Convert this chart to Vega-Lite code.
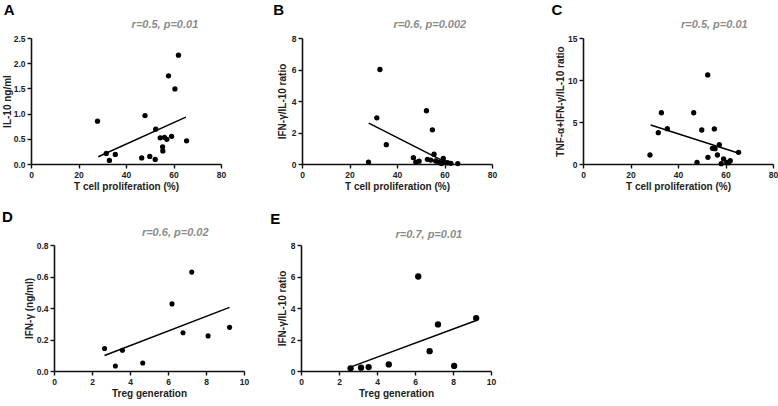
{
  "$schema": "https://vega.github.io/schema/vega-lite/v6.json",
  "background": "white",
  "padding": {"left": 2, "top": 2, "right": 2, "bottom": 2},
  "config": {
    "font": "Liberation Sans",
    "view": {"stroke": null},
    "axis": {
      "grid": false,
      "domainColor": "#111",
      "domainWidth": 1.6,
      "tickColor": "#111",
      "tickWidth": 1.4,
      "tickSize": 4,
      "labelFont": "Liberation Sans",
      "labelFontWeight": "bold",
      "labelFontSize": 8.5,
      "labelColor": "#222",
      "labelPadding": 2,
      "titleFont": "Liberation Sans",
      "titleFontWeight": "bold",
      "titleFontSize": 10,
      "titleColor": "#222"
    },
    "axisX": {"labelFlush": false, "titlePadding": 3}
  },
  "datasets": {
    "A": [
      {"x": 28.0, "y": 0.85}, {"x": 31.7, "y": 0.21}, {"x": 33.0, "y": 0.07}, {"x": 35.5, "y": 0.19},
      {"x": 46.6, "y": 0.12}, {"x": 48.0, "y": 0.96}, {"x": 50.0, "y": 0.15}, {"x": 52.3, "y": 0.09},
      {"x": 52.5, "y": 0.69}, {"x": 54.4, "y": 0.52}, {"x": 55.4, "y": 0.34}, {"x": 55.5, "y": 0.26},
      {"x": 56.2, "y": 0.53}, {"x": 57.2, "y": 0.49}, {"x": 57.9, "y": 1.75}, {"x": 59.2, "y": 0.55},
      {"x": 60.6, "y": 1.49}, {"x": 62.1, "y": 2.16}, {"x": 65.5, "y": 0.46}
    ],
    "Afit": [{"x": 28.3, "y": 0.145}, {"x": 65.2, "y": 0.93}],
    "B": [
      {"x": 28.0, "y": 0.12}, {"x": 31.5, "y": 2.93}, {"x": 32.8, "y": 6.0}, {"x": 35.5, "y": 1.23},
      {"x": 46.9, "y": 0.4}, {"x": 47.9, "y": 0.12}, {"x": 49.3, "y": 0.18}, {"x": 52.4, "y": 3.38},
      {"x": 52.8, "y": 0.3}, {"x": 54.2, "y": 0.25}, {"x": 54.9, "y": 2.17}, {"x": 55.6, "y": 0.62},
      {"x": 56.3, "y": 0.19}, {"x": 57.7, "y": 0.1}, {"x": 58.7, "y": 0.03}, {"x": 59.5, "y": 0.36},
      {"x": 59.8, "y": 0.14}, {"x": 61.3, "y": 0.08}, {"x": 62.7, "y": 0.04}, {"x": 65.6, "y": 0.03}
    ],
    "Bfit": [{"x": 28.1, "y": 2.6}, {"x": 60.0, "y": 0.15}],
    "C": [
      {"x": 28.2, "y": 1.07}, {"x": 31.7, "y": 3.73}, {"x": 33.0, "y": 6.1}, {"x": 35.5, "y": 4.2},
      {"x": 46.6, "y": 6.1}, {"x": 48.0, "y": 0.2}, {"x": 50.0, "y": 4.05}, {"x": 52.5, "y": 10.6},
      {"x": 52.6, "y": 0.8}, {"x": 54.5, "y": 1.87}, {"x": 55.3, "y": 4.17}, {"x": 55.6, "y": 1.83},
      {"x": 56.6, "y": 1.07}, {"x": 57.4, "y": 2.3}, {"x": 58.2, "y": 0.04}, {"x": 59.2, "y": 0.6},
      {"x": 60.5, "y": 0.2}, {"x": 61.3, "y": 0.16}, {"x": 62.0, "y": 0.4}, {"x": 65.5, "y": 1.39}
    ],
    "Cfit": [{"x": 28.5, "y": 4.64}, {"x": 65.3, "y": 1.31}],
    "D": [
      {"x": 2.66, "y": 0.143}, {"x": 3.23, "y": 0.032}, {"x": 3.6, "y": 0.132}, {"x": 4.67, "y": 0.051},
      {"x": 6.21, "y": 0.426}, {"x": 6.79, "y": 0.243}, {"x": 7.25, "y": 0.628}, {"x": 8.11, "y": 0.223},
      {"x": 9.24, "y": 0.277}
    ],
    "Dfit": [{"x": 2.66, "y": 0.098}, {"x": 9.24, "y": 0.404}],
    "E": [
      {"x": 2.61, "y": 0.17}, {"x": 3.16, "y": 0.21}, {"x": 3.56, "y": 0.25}, {"x": 4.62, "y": 0.42},
      {"x": 6.17, "y": 6.0}, {"x": 6.77, "y": 1.26}, {"x": 7.21, "y": 2.96}, {"x": 8.06, "y": 0.32},
      {"x": 9.22, "y": 3.36}
    ],
    "Efit": [{"x": 2.56, "y": 0.23}, {"x": 9.22, "y": 3.21}]
  },
  "spacing": 18,
  "vconcat": [
    {
      "spacing": 47,
      "hconcat": [
        {
          "width": 190, "height": 126,
          "layer": [
            {"data": {"name": "A"}, "mark": {"type": "circle", "size": 28, "color": "#000", "opacity": 1},
             "encoding": {
               "x": {"field": "x", "type": "quantitative", "title": "T cell proliferation (%)", "scale": {"domain": [0, 80], "nice": false}, "axis": {"values": [0, 20, 40, 60, 80]}},
               "y": {"field": "y", "type": "quantitative", "title": "IL-10 ng/ml", "scale": {"domain": [0, 2.5], "nice": false}, "axis": {"values": [0, 0.5, 1, 1.5, 2, 2.5], "format": ".1f", "titlePadding": 1}}
             }},
            {"data": {"name": "Afit"}, "mark": {"type": "line", "color": "#000", "strokeWidth": 1.5},
             "encoding": {
               "x": {"field": "x", "type": "quantitative", "title": "T cell proliferation (%)", "scale": {"domain": [0, 80], "nice": false}, "axis": {"values": [0, 20, 40, 60, 80]}},
               "y": {"field": "y", "type": "quantitative", "title": "IL-10 ng/ml", "scale": {"domain": [0, 2.5], "nice": false}, "axis": {"values": [0, 0.5, 1, 1.5, 2, 2.5], "format": ".1f", "titlePadding": 1}}
             }},
            {"data": {"values": [{"label": "r=0.5, p=0.01"}]},
             "mark": {"type": "text", "clip": false, "fontStyle": "italic", "fontWeight": "bold", "fontSize": 11, "color": "#8c8c8c", "baseline": "middle", "align": "center"},
             "encoding": {
               "x": {"datum": 56.4, "type": "quantitative", "title": "T cell proliferation (%)", "scale": {"domain": [0, 80], "nice": false}, "axis": {"values": [0, 20, 40, 60, 80]}},
               "y": {"datum": 2.75, "type": "quantitative", "title": "IL-10 ng/ml", "scale": {"domain": [0, 2.5], "nice": false}, "axis": {"values": [0, 0.5, 1, 1.5, 2, 2.5], "format": ".1f", "titlePadding": 1}},
               "text": {"field": "label", "type": "nominal"}}},
            {"data": {"values": [{"label": "A"}]},
             "mark": {"type": "text", "clip": false, "fontWeight": "bold", "fontSize": 15, "color": "#000", "baseline": "middle", "align": "left"},
             "encoding": {
               "x": {"datum": -11.5, "type": "quantitative", "title": "T cell proliferation (%)", "scale": {"domain": [0, 80], "nice": false}, "axis": {"values": [0, 20, 40, 60, 80]}},
               "y": {"datum": 3.05, "type": "quantitative", "title": "IL-10 ng/ml", "scale": {"domain": [0, 2.5], "nice": false}, "axis": {"values": [0, 0.5, 1, 1.5, 2, 2.5], "format": ".1f", "titlePadding": 1}},
               "text": {"field": "label", "type": "nominal"}}}
          ]
        },
        {
          "spacing": 54,
          "hconcat": [
            {
              "width": 190, "height": 126,
              "layer": [
                {"data": {"name": "B"}, "mark": {"type": "circle", "size": 28, "color": "#000", "opacity": 1},
                 "encoding": {
                   "x": {"field": "x", "type": "quantitative", "title": "T cell proliferation (%)", "scale": {"domain": [0, 80], "nice": false}, "axis": {"values": [0, 20, 40, 60, 80]}},
                   "y": {"field": "y", "type": "quantitative", "title": "IFN-γ/IL-10 ratio", "scale": {"domain": [0, 8], "nice": false}, "axis": {"values": [0, 2, 4, 6, 8], "titlePadding": 4}}
                 }},
                {"data": {"name": "Bfit"}, "mark": {"type": "line", "color": "#000", "strokeWidth": 1.5},
                 "encoding": {
                   "x": {"field": "x", "type": "quantitative", "title": "T cell proliferation (%)", "scale": {"domain": [0, 80], "nice": false}, "axis": {"values": [0, 20, 40, 60, 80]}},
                   "y": {"field": "y", "type": "quantitative", "title": "IFN-γ/IL-10 ratio", "scale": {"domain": [0, 8], "nice": false}, "axis": {"values": [0, 2, 4, 6, 8], "titlePadding": 4}}
                 }},
                {"data": {"values": [{"label": "r=0.6, p=0.002"}]},
                 "mark": {"type": "text", "clip": false, "fontStyle": "italic", "fontWeight": "bold", "fontSize": 11, "color": "#8c8c8c", "baseline": "middle", "align": "center"},
                 "encoding": {
                   "x": {"datum": 53.8, "type": "quantitative", "title": "T cell proliferation (%)", "scale": {"domain": [0, 80], "nice": false}, "axis": {"values": [0, 20, 40, 60, 80]}},
                   "y": {"datum": 8.85, "type": "quantitative", "title": "IFN-γ/IL-10 ratio", "scale": {"domain": [0, 8], "nice": false}, "axis": {"values": [0, 2, 4, 6, 8], "titlePadding": 4}},
                   "text": {"field": "label", "type": "nominal"}}},
                {"data": {"values": [{"label": "B"}]},
                 "mark": {"type": "text", "clip": false, "fontWeight": "bold", "fontSize": 15, "color": "#000", "baseline": "middle", "align": "left"},
                 "encoding": {
                   "x": {"datum": -12.1, "type": "quantitative", "title": "T cell proliferation (%)", "scale": {"domain": [0, 80], "nice": false}, "axis": {"values": [0, 20, 40, 60, 80]}},
                   "y": {"datum": 9.8, "type": "quantitative", "title": "IFN-γ/IL-10 ratio", "scale": {"domain": [0, 8], "nice": false}, "axis": {"values": [0, 2, 4, 6, 8], "titlePadding": 4}},
                   "text": {"field": "label", "type": "nominal"}}}
              ]
            },
            {
              "width": 190, "height": 126,
              "layer": [
                {"data": {"name": "C"}, "mark": {"type": "circle", "size": 28, "color": "#000", "opacity": 1},
                 "encoding": {
                   "x": {"field": "x", "type": "quantitative", "title": "T cell proliferation (%)", "scale": {"domain": [0, 80], "nice": false}, "axis": {"values": [0, 20, 40, 60, 80]}},
                   "y": {"field": "y", "type": "quantitative", "title": "TNF-α+IFN-γ/IL-10 ratio", "scale": {"domain": [0, 15], "nice": false}, "axis": {"values": [0, 5, 10, 15], "titlePadding": 2.5}}
                 }},
                {"data": {"name": "Cfit"}, "mark": {"type": "line", "color": "#000", "strokeWidth": 1.5},
                 "encoding": {
                   "x": {"field": "x", "type": "quantitative", "title": "T cell proliferation (%)", "scale": {"domain": [0, 80], "nice": false}, "axis": {"values": [0, 20, 40, 60, 80]}},
                   "y": {"field": "y", "type": "quantitative", "title": "TNF-α+IFN-γ/IL-10 ratio", "scale": {"domain": [0, 15], "nice": false}, "axis": {"values": [0, 5, 10, 15], "titlePadding": 2.5}}
                 }},
                {"data": {"values": [{"label": "r=0.5, p=0.01"}]},
                 "mark": {"type": "text", "clip": false, "fontStyle": "italic", "fontWeight": "bold", "fontSize": 11, "color": "#8c8c8c", "baseline": "middle", "align": "center"},
                 "encoding": {
                   "x": {"datum": 55.3, "type": "quantitative", "title": "T cell proliferation (%)", "scale": {"domain": [0, 80], "nice": false}, "axis": {"values": [0, 20, 40, 60, 80]}},
                   "y": {"datum": 16.55, "type": "quantitative", "title": "TNF-α+IFN-γ/IL-10 ratio", "scale": {"domain": [0, 15], "nice": false}, "axis": {"values": [0, 5, 10, 15], "titlePadding": 2.5}},
                   "text": {"field": "label", "type": "nominal"}}},
                {"data": {"values": [{"label": "C"}]},
                 "mark": {"type": "text", "clip": false, "fontWeight": "bold", "fontSize": 15, "color": "#000", "baseline": "middle", "align": "left"},
                 "encoding": {
                   "x": {"datum": -13.3, "type": "quantitative", "title": "T cell proliferation (%)", "scale": {"domain": [0, 80], "nice": false}, "axis": {"values": [0, 20, 40, 60, 80]}},
                   "y": {"datum": 18.33, "type": "quantitative", "title": "TNF-α+IFN-γ/IL-10 ratio", "scale": {"domain": [0, 15], "nice": false}, "axis": {"values": [0, 5, 10, 15], "titlePadding": 2.5}},
                   "text": {"field": "label", "type": "nominal"}}}
              ]
            }
          ]
        }
      ]
    },
    {
      "spacing": -8,
      "hconcat": [
        {
          "width": 1, "height": 126,
          "data": {"values": [{"label": "D"}]},
          "mark": {"type": "text", "clip": false, "fontWeight": "bold", "fontSize": 15, "color": "#000", "baseline": "middle", "align": "left"},
          "encoding": {
            "x": {"datum": -29, "type": "quantitative", "scale": {"domain": [0, 1], "nice": false}, "axis": null},
            "y": {"datum": 153.7, "type": "quantitative", "scale": {"domain": [0, 126], "nice": false}, "axis": null},
            "text": {"field": "label", "type": "nominal"}
          }
        },
        {
          "spacing": 21,
          "hconcat": [
            {
              "width": 190, "height": 126,
              "layer": [
                {"data": {"name": "D"}, "mark": {"type": "circle", "size": 26, "color": "#000", "opacity": 1},
                 "encoding": {
                   "x": {"field": "x", "type": "quantitative", "title": "Treg generation", "scale": {"domain": [0, 10], "nice": false}, "axis": {"values": [0, 2, 4, 6, 8, 10]}},
                   "y": {"field": "y", "type": "quantitative", "title": "IFN-γ (ng/ml)", "scale": {"domain": [0, 0.8], "nice": false}, "axis": {"values": [0, 0.2, 0.4, 0.6, 0.8], "format": ".1f", "titlePadding": 2}}
                 }},
                {"data": {"name": "Dfit"}, "mark": {"type": "line", "color": "#000", "strokeWidth": 1.5},
                 "encoding": {
                   "x": {"field": "x", "type": "quantitative", "title": "Treg generation", "scale": {"domain": [0, 10], "nice": false}, "axis": {"values": [0, 2, 4, 6, 8, 10]}},
                   "y": {"field": "y", "type": "quantitative", "title": "IFN-γ (ng/ml)", "scale": {"domain": [0, 0.8], "nice": false}, "axis": {"values": [0, 0.2, 0.4, 0.6, 0.8], "format": ".1f", "titlePadding": 2}}
                 }},
                {"data": {"values": [{"label": "r=0.6, p=0.02"}]},
                 "mark": {"type": "text", "clip": false, "fontStyle": "italic", "fontWeight": "bold", "fontSize": 11, "color": "#8c8c8c", "baseline": "middle", "align": "center"},
                 "encoding": {
                   "x": {"datum": 6.38, "type": "quantitative", "title": "Treg generation", "scale": {"domain": [0, 10], "nice": false}, "axis": {"values": [0, 2, 4, 6, 8, 10]}},
                   "y": {"datum": 0.874, "type": "quantitative", "title": "IFN-γ (ng/ml)", "scale": {"domain": [0, 0.8], "nice": false}, "axis": {"values": [0, 0.2, 0.4, 0.6, 0.8], "format": ".1f", "titlePadding": 2}},
                   "text": {"field": "label", "type": "nominal"}}}
              ]
            },
            {
              "width": 190, "height": 126,
              "layer": [
                {"data": {"name": "E"}, "mark": {"type": "circle", "size": 40, "color": "#000", "opacity": 1},
                 "encoding": {
                   "x": {"field": "x", "type": "quantitative", "title": "Treg generation", "scale": {"domain": [0, 10], "nice": false}, "axis": {"values": [0, 2, 4, 6, 8, 10]}},
                   "y": {"field": "y", "type": "quantitative", "title": "IFN-γ/IL-10 ratio", "scale": {"domain": [0, 8], "nice": false}, "axis": {"values": [0, 2, 4, 6, 8], "titlePadding": 3}}
                 }},
                {"data": {"name": "Efit"}, "mark": {"type": "line", "color": "#000", "strokeWidth": 1.5},
                 "encoding": {
                   "x": {"field": "x", "type": "quantitative", "title": "Treg generation", "scale": {"domain": [0, 10], "nice": false}, "axis": {"values": [0, 2, 4, 6, 8, 10]}},
                   "y": {"field": "y", "type": "quantitative", "title": "IFN-γ/IL-10 ratio", "scale": {"domain": [0, 8], "nice": false}, "axis": {"values": [0, 2, 4, 6, 8], "titlePadding": 3}}
                 }},
                {"data": {"values": [{"label": "r=0.7, p=0.01"}]},
                 "mark": {"type": "text", "clip": false, "fontStyle": "italic", "fontWeight": "bold", "fontSize": 11, "color": "#8c8c8c", "baseline": "middle", "align": "center"},
                 "encoding": {
                   "x": {"datum": 6.73, "type": "quantitative", "title": "Treg generation", "scale": {"domain": [0, 10], "nice": false}, "axis": {"values": [0, 2, 4, 6, 8, 10]}},
                   "y": {"datum": 8.63, "type": "quantitative", "title": "IFN-γ/IL-10 ratio", "scale": {"domain": [0, 8], "nice": false}, "axis": {"values": [0, 2, 4, 6, 8], "titlePadding": 3}},
                   "text": {"field": "label", "type": "nominal"}}},
                {"data": {"values": [{"label": "E"}]},
                 "mark": {"type": "text", "clip": false, "fontWeight": "bold", "fontSize": 15, "color": "#000", "baseline": "middle", "align": "left"},
                 "encoding": {
                   "x": {"datum": -1.62, "type": "quantitative", "title": "Treg generation", "scale": {"domain": [0, 10], "nice": false}, "axis": {"values": [0, 2, 4, 6, 8, 10]}},
                   "y": {"datum": 9.65, "type": "quantitative", "title": "IFN-γ/IL-10 ratio", "scale": {"domain": [0, 8], "nice": false}, "axis": {"values": [0, 2, 4, 6, 8], "titlePadding": 3}},
                   "text": {"field": "label", "type": "nominal"}}}
              ]
            }
          ]
        }
      ]
    }
  ]
}
